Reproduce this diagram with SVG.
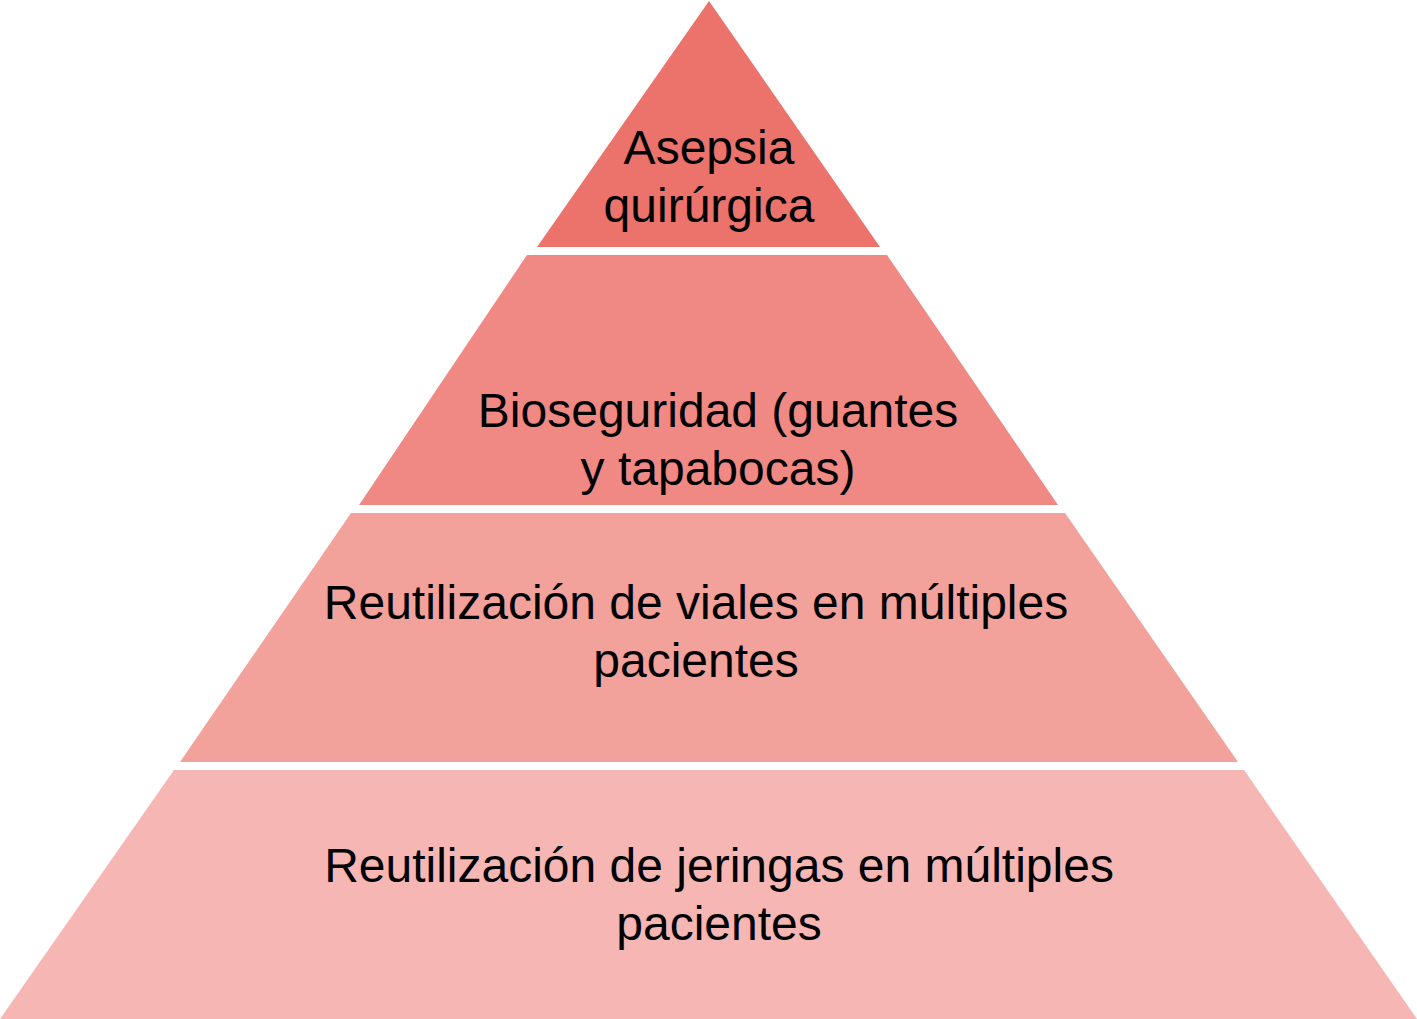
<svg xmlns="http://www.w3.org/2000/svg" width="1417" height="1019" viewBox="0 0 1417 1019">
<style>
text { font-family: "Liberation Sans", Arial, sans-serif; font-size: 48px; fill: #000; text-anchor: middle; }
</style>
<rect width="1417" height="1019" fill="#ffffff"/>
<g id="level1">
<polygon points="709,1 880,247 537,247" fill="#EB736B"/>
<text x="709" y="164">Asepsia</text>
<text x="709" y="222">quirúrgica</text>
</g>
<g id="level2">
<polygon points="527,255 887,255 1058,505 359,505" fill="#F08983"/>
<text x="718" y="427">Bioseguridad (guantes</text>
<text x="718" y="485">y tapabocas)</text>
</g>
<g id="level3">
<polygon points="351,513 1065,513 1238,762 180,762" fill="#F3A19B"/>
<text x="696" y="619">Reutilización de viales en múltiples</text>
<text x="696" y="677">pacientes</text>
</g>
<g id="level4">
<polygon points="174,770 1244,770 1417,1019 0,1019" fill="#F6B6B3"/>
<text x="719" y="882">Reutilización de jeringas en múltiples</text>
<text x="719" y="940">pacientes</text>
</g>
<g id="connectors"/>
</svg>
